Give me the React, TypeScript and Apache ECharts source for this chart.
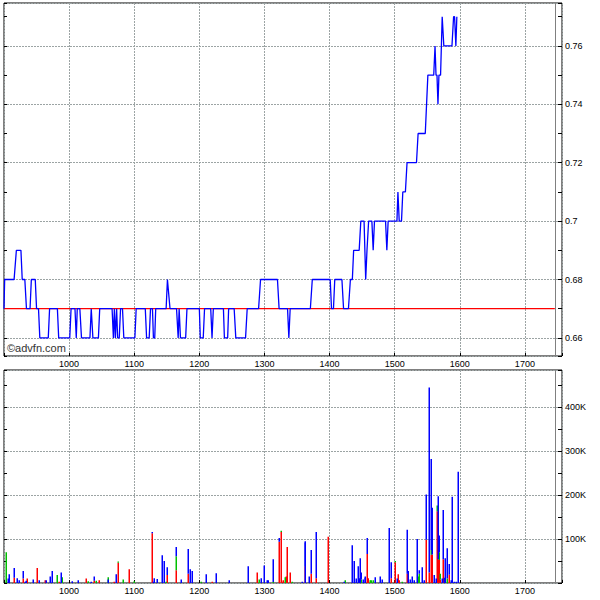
import { useEffect, useRef } from 'react';
import * as echarts from 'echarts';

// ---- Price (top panel) ----
const priceX = [
  900, 901, 915.5, 919, 926, 928, 932, 934.5, 940, 942, 948, 950, 953, 955, 968, 970, 982, 984,
  1001, 1003, 1009, 1011, 1012.5, 1016.5, 1019, 1032, 1034, 1036.5, 1045, 1047, 1066, 1068, 1069.5,
  1071, 1073, 1074.5, 1077, 1079, 1082, 1084, 1101, 1103, 1117, 1119, 1123, 1125, 1128, 1129.5,
  1131.5, 1133, 1149, 1151, 1155, 1165, 1167.5, 1169, 1171, 1179, 1181, 1200, 1201.5, 1206, 1208,
  1217.5, 1219.5, 1221.5, 1237, 1238.5, 1243.5, 1245, 1253.5, 1256, 1271, 1273.5, 1291, 1294, 1320,
  1322.5, 1335.5, 1337.5, 1339.5, 1370.5, 1373.5, 1401, 1403, 1406, 1408, 1419, 1421.5, 1429, 1432,
  1435, 1437, 1445.5, 1448, 1453, 1455.5, 1457.5, 1460, 1465, 1467, 1469, 1486, 1488, 1490, 1503.5,
  1505, 1507, 1510.5, 1512.5, 1516.5, 1519, 1533.5, 1536, 1547, 1551, 1560, 1562, 1563.5, 1565,
  1566.5, 1568, 1570.5, 1573, 1574, 1575.5, 1588, 1590.5, 1592, 1594, 1595.5,
];
const priceY = [
  0.67, 0.68, 0.68, 0.69, 0.69, 0.68, 0.68, 0.67, 0.67, 0.68, 0.68, 0.67, 0.67, 0.66, 0.66, 0.67, 0.67, 0.66,
  0.66, 0.67, 0.67, 0.66, 0.67, 0.67, 0.66, 0.66, 0.67, 0.66, 0.66, 0.67, 0.67, 0.66, 0.67,
  0.66, 0.67, 0.66, 0.66, 0.67, 0.67, 0.66, 0.66, 0.67, 0.67, 0.66, 0.66, 0.67, 0.67, 0.66,
  0.66, 0.67, 0.67, 0.68, 0.67, 0.67, 0.66, 0.67, 0.66, 0.66, 0.67, 0.67, 0.66, 0.66, 0.67,
  0.67, 0.66, 0.67, 0.67, 0.66, 0.66, 0.67, 0.67, 0.66, 0.66, 0.67, 0.67, 0.68, 0.68,
  0.67, 0.67, 0.66, 0.67, 0.67, 0.68, 0.68, 0.67, 0.67, 0.68, 0.68, 0.67, 0.67, 0.68,
  0.68, 0.69, 0.69, 0.7, 0.7, 0.68, 0.69, 0.7, 0.7, 0.69, 0.7, 0.7, 0.69, 0.7, 0.7,
  0.71, 0.7, 0.7, 0.71, 0.71, 0.72, 0.72, 0.73, 0.73, 0.75, 0.75, 0.76, 0.75, 0.75,
  0.74, 0.75, 0.75, 0.77, 0.77, 0.76, 0.76, 0.77, 0.77, 0.76, 0.77,
];
const refLevelX = [900, 1746];
const refLevel = 0.67;
const endMarkerX = 1746;

// ---- Volume (bottom panel), thousands of shares ----
const volX = [
  903, 906, 908, 915, 920, 923, 929, 932, 934, 936, 945, 951, 954, 963, 965, 971, 974, 981, 985, 988, 989,
  1005, 1014, 1026, 1029, 1034, 1038, 1041, 1046, 1059, 1060, 1069, 1072, 1075, 1082, 1092, 1100,
  1127, 1129, 1131, 1135, 1143, 1146, 1149, 1151, 1164, 1172, 1182, 1185, 1188, 1203, 1211, 1220, 1225,
  1246, 1275, 1288, 1291, 1295, 1300, 1304, 1305, 1313, 1323, 1325, 1328, 1329, 1331, 1333, 1335, 1339, 1343,
  1357, 1362, 1363, 1368, 1371, 1379, 1397, 1422, 1424, 1434, 1438, 1441, 1443, 1445, 1447, 1449, 1451,
  1454, 1455, 1457, 1459, 1462, 1464, 1466, 1470, 1477, 1481, 1491, 1494, 1500, 1504, 1505, 1507, 1512,
  1519, 1520, 1523, 1527, 1529, 1534, 1536, 1537, 1538, 1542, 1545, 1548, 1552, 1556, 1558, 1560, 1563,
  1565, 1566, 1568, 1569, 1572, 1574, 1576, 1577, 1581, 1583, 1587, 1588, 1591, 1594, 1597,
];
const volRed = [
  0, 0, 0, 12, 0, 0, 10, 0, 0, 10, 0, 34, 0, 6, 0, 0, 0, 0, 3, 0, 0,
  0, 0, 10, 0, 0, 5, 0, 6, 0, 0, 3, 0, 46, 0, 31, 0,
  113, 0, 0, 0, 0, 0, 0, 18, 29, 0, 21, 0, 0, 0, 0, 3, 0,
  0, 0, 24, 0, 0, 0, 0, 0, 0, 94, 116, 3, 6, 0, 15, 82, 24, 0,
  0, 38, 0, 0, 21, 11, 105, 0, 0, 0, 0, 0, 0, 0, 0, 0, 0,
  0, 0, 66, 11, 0, 0, 0, 0, 0, 0, 0, 11, 47, 0, 20, 6, 0,
  21, 0, 0, 0, 0, 0, 0, 0, 0, 0, 0, 98, 24, 64, 65, 0, 0,
  163, 54, 52, 8, 0, 54, 0, 0, 0, 19, 0, 0, 0, 0, 0,
];
const volGreen = [
  70, 0, 0, 0, 0, 0, 0, 0, 0, 0, 0, 0, 0, 0, 0, 0, 0, 18, 0, 0, 13,
  0, 0, 0, 4, 0, 0, 5, 0, 13, 0, 0, 0, 3, 8, 0, 4,
  0, 0, 0, 0, 0, 0, 3, 0, 32, 0, 0, 0, 0, 3, 0, 0, 0,
  0, 0, 0, 8, 0, 0, 0, 0, 2, 0, 3, 0, 0, 13, 0, 0, 0, 3,
  0, 0, 0, 0, 0, 0, 0, 0, 6, 0, 0, 0, 0, 0, 0, 8, 0,
  0, 0, 0, 0, 6, 6, 6, 0, 0, 0, 0, 0, 3, 0, 0, 0, 3,
  0, 0, 0, 0, 0, 0, 15, 21, 10, 0, 0, 0, 0, 11, 0, 0, 0,
  13, 0, 18, 13, 0, 0, 0, 0, 10, 0, 0, 0, 0, 0, 0,
];
const volBlue = [
  0, 10, 20, 22, 11, 6, 17, 3, 5, 0, 8, 0, 6, 0, 6, 15, 27, 0, 0, 24, 0,
  4, 6, 0, 0, 3, 10, 0, 0, 0, 8, 0, 20, 0, 0, 0, 0,
  3, 3, 11, 9, 63, 50, 0, 18, 21, 8, 56, 31, 27, 0, 20, 0, 22,
  6, 38, 0, 0, 11, 40, 6, 6, 52, 8, 0, 0, 0, 0, 0, 0, 0, 0,
  3, 54, 95, 15, 54, 105, 0, 3, 0, 86, 50, 10, 38, 11, 56, 16, 8,
  15, 12, 36, 0, 0, 0, 0, 13, 15, 8, 125, 36, 0, 10, 0, 0, 0,
  100, 27, 8, 15, 6, 100, 0, 8, 0, 36, 6, 103, 420, 207, 106, 18, 10,
  0, 143, 38, 0, 10, 112, 12, 56, 69, 24, 6, 196, 3, 3, 253,
];

const FONT = 'Liberation Sans, Arial, sans-serif';
const GRID_LINE = { show: true, lineStyle: { color: '#9ca4a4', width: 1, type: [2, 1] as any } };

export default function App() {
  const ref = useRef<HTMLDivElement>(null);

  useEffect(() => {
    if (!ref.current) return;
    const chart = echarts.init(ref.current, null, { renderer: 'svg' });

    const priceData = priceX.map((x, i) => [x, priceY[i]]);

    // stacked segments: red at bottom, green in the middle, blue on top
    const segRed = volX.map((x, i) => [x, 0, volRed[i]]).filter((d) => d[2] > d[1]);
    const segGreen = volX
      .map((x, i) => [x, volRed[i], volRed[i] + volGreen[i]])
      .filter((d) => d[2] > d[1]);
    const segBlue = volX
      .map((x, i) => [x, volRed[i] + volGreen[i], volRed[i] + volGreen[i] + volBlue[i]])
      .filter((d) => d[2] > d[1]);

    const renderSeg = (color: string) => (params: any, api: any) => {
      const x = api.value(0);
      const p0 = api.coord([x, api.value(1)]);
      const p1 = api.coord([x, api.value(2)]);
      return {
        type: 'rect',
        shape: { x: Math.round(p0[0]) - 0.5, y: p1[1], width: 1.5, height: p0[1] - p1[1] },
        style: { fill: color },
      };
    };

    const volSeries = (name: string, data: number[][], color: string, extra: any = {}) => ({
      name,
      type: 'custom',
      xAxisIndex: 1,
      yAxisIndex: 2,
      data,
      encode: { x: 0, y: [1, 2] },
      renderItem: renderSeg(color),
      ...extra,
    });

    const xCommon = {
      type: 'value',
      min: 900,
      max: 1757,
      interval: 100,
      axisLine: { show: false },
      axisTick: { show: true, inside: true, length: 3, lineStyle: { color: '#000' } },
      splitLine: GRID_LINE,
    };
    const xLabel = (margin: number) => ({
      show: true,
      margin,
      fontSize: 9,
      fontFamily: FONT,
      color: '#000',
      formatter: (v: number) => (v % 100 === 0 && v > 900 ? String(v) : ''),
    });

    const option: any = {
      animation: false,
      backgroundColor: '#fff',
      grid: [
        { left: 4, top: 3, width: 558, height: 353, show: true, borderColor: '#000', borderWidth: 1, backgroundColor: 'transparent' },
        { left: 4, top: 370, width: 558, height: 213, show: true, borderColor: '#000', borderWidth: 1, backgroundColor: 'transparent' },
      ],
      xAxis: [
        { ...xCommon, gridIndex: 0, position: 'bottom', axisLabel: xLabel(3) },
        { ...xCommon, gridIndex: 1, position: 'bottom', axisLabel: xLabel(3) },
      ],
      yAxis: [
        {
          type: 'value',
          gridIndex: 0,
          position: 'right',
          min: 0.6538,
          max: 0.7747,
          splitNumber: 6,
          axisLine: { show: false },
          axisTick: { show: true, inside: true, length: 4, lineStyle: { color: '#000' } },
          minorTick: { show: true, splitNumber: 2, length: 4, lineStyle: { color: '#000' } },
          splitLine: GRID_LINE,
          axisLabel: {
            margin: 3,
            fontSize: 9,
            fontFamily: FONT,
            color: '#000',
            formatter: (v: number) => {
              const k = v / 0.02;
              return Math.abs(k - Math.round(k)) < 1e-6 ? String(+v.toFixed(2)) : '';
            },
          },
        },
        {
          type: 'value',
          gridIndex: 0,
          position: 'left',
          min: 0.6538,
          max: 0.7747,
          splitNumber: 6,
          axisLine: { show: false },
          axisTick: { show: true, inside: true, length: 3, lineStyle: { color: '#000' } },
          minorTick: { show: true, splitNumber: 2, length: 3, lineStyle: { color: '#000' } },
          splitLine: { show: false },
          axisLabel: { show: false },
        },
        {
          type: 'value',
          gridIndex: 1,
          position: 'right',
          min: 0,
          max: 484,
          interval: 100,
          axisLine: { show: false },
          axisTick: { show: true, inside: true, length: 4, lineStyle: { color: '#000' } },
          minorTick: { show: true, splitNumber: 2, length: 4, lineStyle: { color: '#000' } },
          splitLine: GRID_LINE,
          axisLabel: {
            margin: 3,
            fontSize: 9,
            fontFamily: FONT,
            color: '#000',
            formatter: (v: number) => (v > 0 && v % 100 === 0 ? v + 'K' : ''),
          },
        },
        {
          type: 'value',
          gridIndex: 1,
          position: 'left',
          min: 0,
          max: 484,
          interval: 100,
          axisLine: { show: false },
          axisTick: { show: true, inside: true, length: 3, lineStyle: { color: '#000' } },
          minorTick: { show: true, splitNumber: 2, length: 3, lineStyle: { color: '#000' } },
          splitLine: { show: false },
          axisLabel: { show: false },
        },
      ],
      graphic: [
        {
          type: 'text',
          left: 7,
          top: 342,
          style: { text: '©advfn.com', fontSize: 11, fontFamily: FONT, fill: '#333' },
        },
      ],
      series: [
        {
          name: 'Reference',
          type: 'line',
          xAxisIndex: 0,
          yAxisIndex: 0,
          data: refLevelX.map((x) => [x, refLevel]),
          symbol: 'none',
          z: 2,
          lineStyle: { color: '#ff0000', width: 1.2 },
          markLine: {
            silent: true,
            symbol: 'none',
            label: { show: false },
            lineStyle: { color: '#808080', type: 'solid', width: 1 },
            data: [{ xAxis: endMarkerX }],
          },
        },
        {
          name: 'Price',
          type: 'line',
          xAxisIndex: 0,
          yAxisIndex: 0,
          data: priceData,
          symbol: 'none',
          z: 3,
          lineStyle: { color: '#0000ff', width: 1.3 },
        },
        volSeries('Volume red', segRed, '#ff0000', {
          markLine: {
            silent: true,
            symbol: 'none',
            label: { show: false },
            lineStyle: { color: '#808080', type: 'solid', width: 1 },
            data: [{ xAxis: endMarkerX }],
          },
        }),
        volSeries('Volume green', segGreen, '#00c000'),
        volSeries('Volume blue', segBlue, '#0000ff'),
      ],
    };

    chart.setOption(option);
    return () => chart.dispose();
  }, []);

  return (
    <div
      ref={ref}
      style={{ position: 'absolute', left: 0, top: 0, width: 600, height: 600, background: '#fff' }}
    />
  );
}
